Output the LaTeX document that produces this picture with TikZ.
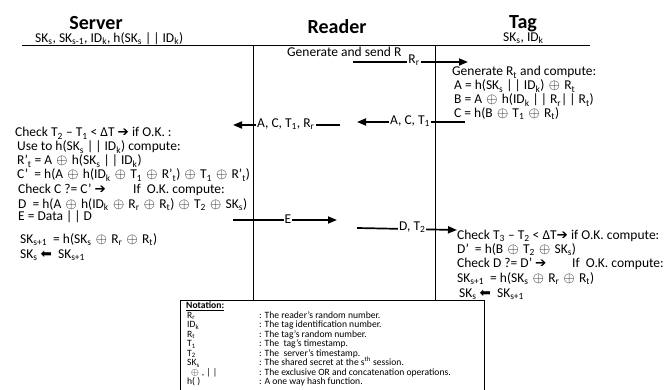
\documentclass[tikz,border=0pt]{standalone}
\usepackage{fontspec}
\setmainfont{Carlito}
\newfontfamily\symfont{DejaVu Sans}
\usetikzlibrary{arrows.meta}
\newcommand\xr{\ensuremath{\mkern1.5mu\oplus\mkern1.5mu}}
\newcommand\myR{{\symfont\char"2794}}
\newcommand\myL{{\symfont\char"2B05}}
\newcommand\sbs[1]{\textsubscript{#1}}
\newcommand\bars{|\kern2pt|}
\begin{document}
\begin{tikzpicture}[x=1pt,y=-1pt,
  txt/.style={font=\fontsize{13.5}{14}\selectfont, inner sep=0pt, anchor=base west},
  head/.style={font=\fontsize{20}{22}\selectfont\bfseries, inner sep=0pt, anchor=base},
  life/.style={line width=0.9pt},
  msg/.style={line width=1.7pt, -{Triangle[length=9pt,width=7pt]}},
  lbl/.style={font=\fontsize{13.5}{14}\selectfont, fill=white, inner sep=1pt},
  note/.style={font=\fontsize{9.6}{10}\selectfont, inner sep=0pt, anchor=base west}]
\useasboundingbox (0,0) rectangle (669,390);

% headers
\node[head] (hS) at (96,30) {Server};
\node[head] (hR) at (337,34) {Reader};
\node[head] (hT) at (523,29) {Tag};
\node[txt] (sS) at (35,42.5) {SK\sbs{s}, SK\sbs{s-1}, ID\sbs{k}, h(SK\sbs{s} \bars{} ID\sbs{k})};
\node[txt] (sT) at (503,41.5) {SK\sbs{s}, ID\sbs{k}};

% top line and lifelines
\coordinate (tl) at (22,45);
\coordinate (tr) at (590,45);
\draw[life] (tl) -- (tr);
\coordinate (l1t) at (253,45);
\coordinate (l1b) at (253,300);
\coordinate (l2t) at (435,45);
\coordinate (l2b) at (435,300);
\draw[life] (l1t) -- (l1b);
\draw[life] (l2t) -- (l2b);

% reader generate
\node[txt] (gen) at (287,57) {Generate and send R};

% tag block 1
\node[txt] (r1) at (452,76) {Generate R\sbs{t} and compute:};
\node[txt] (r2) at (454,90) {A = h(SK\sbs{s} \bars{} ID\sbs{k}) \xr{} R\sbs{t}};
\node[txt] (r3) at (454,104) {B = A \xr{} h(ID\sbs{k} \bars{} R\sbs{r}\bars{} R\sbs{t})};
\node[txt] (r4) at (454,117.5) {C = h(B \xr{} T\sbs{1} \xr{} R\sbs{t})};

% server block
\node[txt] (s1) at (15,137) {Check T\sbs{2} – T\sbs{1} < ΔT \myR{} if O.K. :};
\node[txt] (s2) at (17,151) {Use to h(SK\sbs{s} \bars{} ID\sbs{k}) compute:};
\node[txt] (s3) at (17,165) {R'\sbs{t} = A \xr{} h(SK\sbs{s} \bars{} ID\sbs{k})};
\node[txt] (s4) at (17,179) {C'\ \ = h(A \xr{} h(ID\sbs{k} \xr{} T\sbs{1} \xr{} R'\sbs{t}) \xr{} T\sbs{1} \xr{} R'\sbs{t})};
\node[txt] (s5) at (18,194) {Check C ?= C' \myR{}};
\node[txt] (s5b) at (133,194) {If\ \ O.K. compute:};
\node[txt] (s6) at (18,208) {D\ \ = h(A \xr{} h(ID\sbs{k} \xr{} R\sbs{r} \xr{} R\sbs{t}) \xr{} T\sbs{2} \xr{} SK\sbs{s})};
\node[txt] (s7) at (18,220) {E = Data \bars{} D};
\node[txt] (s8) at (20,243) {SK\sbs{s+1}\ \ = h(SK\sbs{s} \xr{} R\sbs{r} \xr{} R\sbs{t})};
\node[txt] (s9) at (20,258) {SK\sbs{s} \myL{}\ \ SK\sbs{s+1}};

% tag block 2
\node[txt] (q1) at (457,239) {Check T\sbs{3} – T\sbs{2} < ΔT\myR{} if O.K. compute:};
\node[txt] (q2) at (457,253) {D'\ \ = h(B \xr{} T\sbs{2} \xr{} SK\sbs{s})};
\node[txt] (q3) at (457,267) {Check D ?= D' \myR{}};
\node[txt, anchor=base east] (q3b) at (664,267) {If\ \ O.K. compute:};
\node[txt] (q4) at (457,282) {SK\sbs{s+1}\ \ = h(SK\sbs{s} \xr{} R\sbs{r} \xr{} R\sbs{t})};
\node[txt] (q5) at (459,297) {SK\sbs{s} \myL{}\ \ SK\sbs{s+1}};

% messages
\coordinate (m1a) at (353,62);  \coordinate (m1b) at (468,62);
\draw[msg] (m1a) -- (m1b);
\node[lbl] (m1l) at (414,60) {R\sbs{r}};

\coordinate (m2a) at (465,122); \coordinate (m2b) at (357,122);
\draw[msg] (m2a) -- (m2b);
\node[lbl, anchor=west] (m2l) at (389,121) {A, C, T\sbs{1}};

\coordinate (m3a) at (340,125); \coordinate (m3b) at (233,125);
\draw[msg] (m3a) -- (m3b);
\node[lbl, anchor=west] (m3l) at (256,124) {A, C, T\sbs{1}, R\sbs{r}};

\coordinate (m4a) at (233,220); \coordinate (m4b) at (337,220);
\draw[msg] (m4a) -- (m4b);
\node[lbl] (m4l) at (288,219) {E};

\coordinate (m5a) at (357,228); \coordinate (m5b) at (457,230);
\draw[msg] (m5a) -- (m5b);
\node[lbl, anchor=west] (m5l) at (398,227) {D, T\sbs{2}};

% notation box
\node[draw, line width=0.8pt, minimum width=304, minimum height=92, anchor=north west, inner sep=0pt] (nbox) at (180,300) {};
\node[note, font=\fontsize{9.6}{10}\selectfont\bfseries] (nt) at (186,308.5) {\underline{Notation:}};
\node[note] (a1) at (187,318) {R\sbs{r}};
\node[note] (a2) at (187,327.5) {ID\sbs{k}};
\node[note] (a3) at (187,337) {R\sbs{t}};
\node[note] (a4) at (187,346.5) {T\sbs{1}};
\node[note] (a5) at (187,356) {T\sbs{2}};
\node[note] (a6) at (187,365.5) {SK\sbs{s}};
\node[note] (a7) at (190,375.5) {\xr{} , \bars};
\node[note] (a8) at (187,384.5) {h( )};
\node[note] (b1) at (259,318) {: The reader’s random number.};
\node[note] (b2) at (259,327.5) {: The tag identification number.};
\node[note] (b3) at (259,337) {: The tag’s random number.};
\node[note] (b4) at (259,346.5) {: The\ \ tag’s timestamp.};
\node[note] (b5) at (259,356) {: The\ \ server’s timestamp.};
\node[note] (b6) at (259,365.5) {: The shared secret at the s\textsuperscript{th} session.};
\node[note] (b7) at (259,375) {: The exclusive OR and concatenation operations.};
\node[note] (b8) at (259,384.5) {: A one way hash function.};
\end{tikzpicture}
\end{document}
